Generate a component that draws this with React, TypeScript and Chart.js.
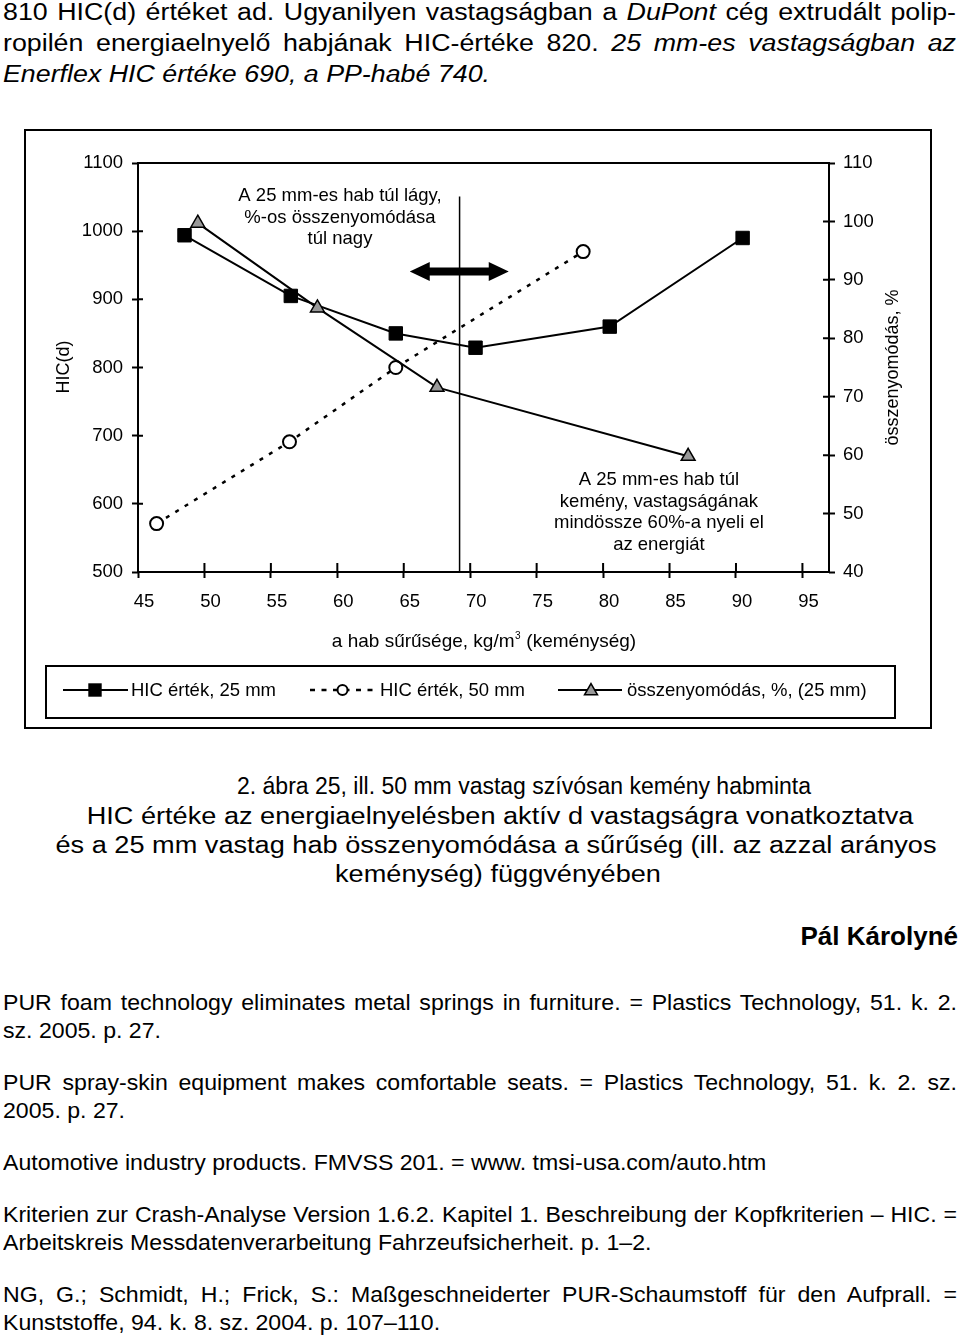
import React, { useEffect, useRef } from "react";
import { Chart, registerables } from "chart.js";

Chart.register(...registerables);

const FONT = "'Liberation Sans', Arial, Helvetica, sans-serif";

// ---- data ----
const densityTicks = [45, 50, 55, 60, 65, 70, 75, 80, 85, 90, 95];
const hicTicks = [500, 600, 700, 800, 900, 1000, 1100];
const compressionTicks = [40, 50, 60, 70, 80, 90, 100, 110];

const hic25Density = [48.5, 56.5, 64.4, 70.4, 80.5, 90.5];
const hic25Values = [994, 905, 850, 829, 860, 990];
const hic50Density = [46.4, 56.4, 64.4, 78.5];
const hic50Values = [571, 691, 800, 970];
const compressionDensity = [49.5, 58.5, 67.5, 86.4];
const compressionValues = [99.7, 85.2, 71.6, 59.8];

const seriesNames = ["HIC érték, 25 mm", "HIC érték, 50 mm", "összenyomódás, %, (25 mm)"];
const xTitleParts = ["a hab sűrűsége, kg/m", "3", " (keménység)"];
const leftTitle = "HIC(d)";
const rightTitle = "összenyomódás, %";

const softNote = ["A 25 mm-es hab túl lágy,", "%-os összenyomódása", "túl nagy"];
const softNoteAt = [60.2, 1044];
const hardNote = ["A 25 mm-es hab túl", "kemény, vastagságának", "mindössze 60%-a nyeli el", "az energiát"];
const hardNoteAt = [84.2, 627];
const dividerAt = [69.2, 1051];
const arrowAt = [65.45, 72.9, 941];

const toPoints = (xs: number[], ys: number[]) => xs.map((x, i) => ({ x, y: ys[i] }));

function tri(ctx: CanvasRenderingContext2D, cx: number, cy: number, r: number) {
  ctx.beginPath();
  ctx.moveTo(cx, cy - r);
  ctx.lineTo(cx + 0.866 * r, cy + 0.5 * r);
  ctx.lineTo(cx - 0.866 * r, cy + 0.5 * r);
  ctx.closePath();
}

const decor = {
  id: "decor",
  beforeDatasetsDraw(chart: any) {
    const { ctx, chartArea, scales } = chart;
    const x = scales.x;
    const y = scales.y;
    ctx.save();
    ctx.strokeStyle = "#000";
    ctx.lineWidth = 1.5;
    const dx = x.getPixelForValue(dividerAt[0]);
    ctx.beginPath();
    ctx.moveTo(dx, y.getPixelForValue(dividerAt[1]));
    ctx.lineTo(dx, chartArea.bottom);
    ctx.stroke();

    // double arrow
    const x1 = x.getPixelForValue(arrowAt[0]);
    const x2 = x.getPixelForValue(arrowAt[1]);
    const ay = y.getPixelForValue(arrowAt[2]);
    const hl = 20, hh = 9.5, st = 4;
    ctx.fillStyle = "#000";
    ctx.beginPath();
    ctx.moveTo(x1, ay);
    ctx.lineTo(x1 + hl, ay - hh);
    ctx.lineTo(x1 + hl, ay - st);
    ctx.lineTo(x2 - hl, ay - st);
    ctx.lineTo(x2 - hl, ay - hh);
    ctx.lineTo(x2, ay);
    ctx.lineTo(x2 - hl, ay + hh);
    ctx.lineTo(x2 - hl, ay + st);
    ctx.lineTo(x1 + hl, ay + st);
    ctx.lineTo(x1 + hl, ay + hh);
    ctx.closePath();
    ctx.fill();
    ctx.restore();
  },
  afterDraw(chart: any) {
    const { ctx, chartArea, scales } = chart;
    const { left, right, top, bottom } = chartArea;
    const x = scales.x;
    const y = scales.y;
    const y1 = scales.y1;
    ctx.save();
    ctx.strokeStyle = "#000";
    ctx.fillStyle = "#000";

    // outer frame
    ctx.lineWidth = 2;
    ctx.strokeRect(25, 5, 906, 598);
    // plot frame
    ctx.strokeRect(left, top, right - left, bottom - top);

    // inward tick stubs
    ctx.beginPath();
    x.ticks.forEach((t: any) => {
      const p = x.getPixelForValue(t.value);
      ctx.moveTo(p, bottom);
      ctx.lineTo(p, bottom - 9);
    });
    y.ticks.forEach((t: any) => {
      const p = y.getPixelForValue(t.value);
      ctx.moveTo(left, p);
      ctx.lineTo(left + 5, p);
    });
    y1.ticks.forEach((t: any) => {
      const p = y1.getPixelForValue(t.value);
      ctx.moveTo(right, p);
      ctx.lineTo(right - 6, p);
    });
    ctx.stroke();

    // annotations
    ctx.font = `18.5px ${FONT}`;
    ctx.textAlign = "center";
    ctx.textBaseline = "alphabetic";
    const drawNote = (lines: string[], at: number[]) => {
      const cx = x.getPixelForValue(at[0]);
      const by = y.getPixelForValue(at[1]);
      lines.forEach((l, i) => ctx.fillText(l, cx, by + i * 21.5));
    };
    drawNote(softNote, softNoteAt);
    drawNote(hardNote, hardNoteAt);

    // axis titles
    ctx.font = `18px ${FONT}`;
    ctx.save();
    ctx.translate(68.5, 242);
    ctx.rotate(-Math.PI / 2);
    ctx.fillText(leftTitle, 0, 0);
    ctx.restore();
    ctx.save();
    ctx.translate(898, 242.5);
    ctx.rotate(-Math.PI / 2);
    ctx.fillText(rightTitle, 0, 0);
    ctx.restore();

    ctx.textAlign = "left";
    ctx.font = `19px ${FONT}`;
    const w1 = ctx.measureText(xTitleParts[0]).width;
    const w3 = ctx.measureText(xTitleParts[2]).width;
    ctx.font = `10px ${FONT}`;
    const w2 = ctx.measureText(xTitleParts[1]).width;
    const sx = 483.5 - (w1 + w2 + w3) / 2;
    ctx.font = `19px ${FONT}`;
    ctx.fillText(xTitleParts[0], sx, 522);
    ctx.font = `10px ${FONT}`;
    ctx.fillText(xTitleParts[1], sx + w1 + 0.5, 514);
    ctx.font = `19px ${FONT}`;
    ctx.fillText(xTitleParts[2], sx + w1 + w2 + 1, 522);

    // legend
    ctx.lineWidth = 2;
    ctx.strokeRect(46, 541, 849, 52);
    const ly = 565;
    ctx.font = `18.5px ${FONT}`;
    ctx.textBaseline = "alphabetic";
    // item 1
    ctx.beginPath();
    ctx.moveTo(63, ly);
    ctx.lineTo(128, ly);
    ctx.stroke();
    ctx.fillRect(95 - 6.7, ly - 6.7, 13.4, 13.4);
    ctx.fillText(seriesNames[0], 131, 571);
    // item 2
    ctx.save();
    ctx.lineWidth = 2.5;
    ctx.setLineDash([5, 6.5]);
    ctx.beginPath();
    ctx.moveTo(310, ly);
    ctx.lineTo(378, ly);
    ctx.stroke();
    ctx.restore();
    ctx.beginPath();
    ctx.arc(342.5, ly, 5, 0, Math.PI * 2);
    ctx.fillStyle = "#fff";
    ctx.fill();
    ctx.lineWidth = 2;
    ctx.stroke();
    ctx.fillStyle = "#000";
    ctx.fillText(seriesNames[1], 380, 571);
    // item 3
    ctx.beginPath();
    ctx.moveTo(558, ly);
    ctx.lineTo(622, ly);
    ctx.stroke();
    tri(ctx, 591, ly + 1, 7.5);
    ctx.fillStyle = "#999";
    ctx.fill();
    ctx.lineWidth = 1.5;
    ctx.stroke();
    ctx.fillStyle = "#000";
    ctx.fillText(seriesNames[2], 627, 571);

    ctx.restore();
  },
};

function ChartBox() {
  const ref = useRef<HTMLCanvasElement>(null);
  useEffect(() => {
    if (!ref.current) return;
    const tickFont = { size: 18.5, family: FONT };
    const grid = {
      drawOnChartArea: false,
      drawTicks: true,
      tickLength: 6,
      tickWidth: 2,
      tickColor: "#000",
    };
    const chart = new Chart(ref.current, {
      type: "scatter",
      data: {
        datasets: [
          {
            label: seriesNames[0],
            data: toPoints(hic25Density, hic25Values),
            showLine: true,
            borderColor: "#000",
            borderWidth: 2,
            pointStyle: "rect",
            pointRadius: 9.5,
            pointBackgroundColor: "#000",
            pointBorderColor: "#000",
            pointBorderWidth: 1,
            yAxisID: "y",
            order: 2,
          },
          {
            label: seriesNames[1],
            data: toPoints(hic50Density, hic50Values),
            showLine: true,
            borderColor: "#000",
            borderWidth: 2.5,
            borderDash: [4, 7],
            pointStyle: "circle",
            pointRadius: 6.5,
            pointBackgroundColor: "#fff",
            pointBorderColor: "#000",
            pointBorderWidth: 2,
            yAxisID: "y",
            order: 3,
          },
          {
            label: seriesNames[2],
            data: toPoints(compressionDensity, compressionValues),
            showLine: true,
            borderColor: "#000",
            borderWidth: 2,
            pointStyle: "triangle",
            pointRadius: 8,
            pointBackgroundColor: "#999",
            pointBorderColor: "#000",
            pointBorderWidth: 1.5,
            yAxisID: "y1",
            order: 1,
          },
        ],
      },
      options: {
        animation: false,
        responsive: false,
        devicePixelRatio: 1,
        events: [],
        layout: { padding: { top: 38, left: 0, right: 0, bottom: 0 } },
        plugins: { legend: { display: false }, tooltip: { enabled: false } },
        scales: {
          x: {
            type: "linear",
            position: "bottom",
            min: 45,
            max: 97,
            afterBuildTicks: (s: any) => {
              s.ticks = densityTicks.map((v) => ({ value: v }));
            },
            afterFit: (s: any) => {
              s.height = 163;
            },
            ticks: {
              font: tickFont,
              color: "#000",
              padding: 13,
              labelOffset: 6,
              autoSkip: false,
              maxRotation: 0,
              callback: (v: any) => String(v),
            },
            grid,
            border: { display: false },
          },
          y: {
            type: "linear",
            position: "left",
            min: 500,
            max: 1100,
            afterBuildTicks: (s: any) => {
              s.ticks = hicTicks.map((v) => ({ value: v }));
            },
            afterFit: (s: any) => {
              s.width = 138;
            },
            ticks: { font: tickFont, color: "#000", padding: 9, callback: (v: any) => String(v) },
            grid,
            border: { display: false },
          },
          y1: {
            type: "linear",
            position: "right",
            min: 40,
            max: 110,
            afterBuildTicks: (s: any) => {
              s.ticks = compressionTicks.map((v) => ({ value: v }));
            },
            afterFit: (s: any) => {
              s.width = 131;
            },
            ticks: { font: tickFont, color: "#000", padding: 8, callback: (v: any) => String(v) },
            grid,
            border: { display: false },
          },
        },
      } as any,
      plugins: [decor],
    });
    return () => chart.destroy();
  }, []);
  return (
    <canvas
      ref={ref}
      width={960}
      height={610}
      style={{ position: "absolute", left: 0, top: 125, width: 960, height: 610 }}
    />
  );
}

type LineProps = {
  children: React.ReactNode;
  baseline: number;
  size: number;
  left: number;
  width: number;
  align?: "left" | "center" | "right";
  justify?: boolean;
  italic?: boolean;
  bold?: boolean;
  scale?: number;
  origin?: string;
};

function Line({ children, baseline, size, left, width, align = "left", justify, italic, bold, scale = 1, origin = "left top" }: LineProps) {
  return (
    <div
      style={{
        position: "absolute",
        left,
        top: baseline - 0.8465 * size,
        width,
        fontSize: size,
        lineHeight: `${size}px`,
        whiteSpace: "nowrap",
        textAlign: justify ? "justify" : align,
        textAlignLast: justify ? "justify" : align,
        fontStyle: italic ? "italic" : "normal",
        fontWeight: bold ? "bold" : "normal",
        transform: scale !== 1 ? `scaleX(${scale})` : undefined,
        transformOrigin: origin,
      } as any}
    >
      {children}
    </div>
  );
}

const TOP_S = 1.14;
const CAP_S = 1.18;
const REF_S = 1.05;
const REF_W = 954 / REF_S;

export default function App() {
  return (
    <div
      style={{
        position: "absolute",
        left: 0,
        top: 0,
        width: 960,
        height: 1337,
        overflow: "hidden",
        background: "#fff",
        color: "#000",
        fontFamily: FONT,
      }}
    >
      <Line baseline={21} size={23.5} left={3} width={953 / TOP_S} justify scale={TOP_S}>
        810 HIC(d) értéket ad. Ugyanilyen vastagságban a <i>DuPont</i> cég extrudált polip-
      </Line>
      <Line baseline={52} size={23.5} left={3} width={953 / TOP_S} justify scale={TOP_S}>
        ropilén energiaelnyelő habjának HIC-értéke 820. <i>25 mm-es vastagságban az</i>
      </Line>
      <Line baseline={83} size={23.5} left={3} width={953 / TOP_S} italic scale={TOP_S}>
        Enerflex HIC értéke 690, a PP-habé 740.
      </Line>

      <ChartBox />

      <Line baseline={794} size={23} left={524 - 480} width={960} align="center" origin="center top">
        2. ábra 25, ill. 50 mm vastag szívósan kemény habminta
      </Line>
      <Line baseline={824} size={23} left={500 - 480} width={960} align="center" scale={CAP_S} origin="center top">
        HIC értéke az energiaelnyelésben aktív d vastagságra vonatkoztatva
      </Line>
      <Line baseline={853} size={23} left={496 - 480} width={960} align="center" scale={CAP_S} origin="center top">
        és a 25 mm vastag hab összenyomódása a sűrűség (ill. az azzal arányos
      </Line>
      <Line baseline={882} size={23} left={497.5 - 480} width={960} align="center" scale={CAP_S} origin="center top">
        keménység) függvényében
      </Line>

      <Line baseline={945} size={26} left={0} width={958} align="right" bold>
        Pál Károlyné
      </Line>

      <Line baseline={1011} size={22} left={3} width={REF_W} justify scale={REF_S}>
        PUR foam technology eliminates metal springs in furniture. = Plastics Technology, 51. k. 2.
      </Line>
      <Line baseline={1039} size={22} left={3} width={REF_W} scale={REF_S}>
        sz. 2005. p. 27.
      </Line>
      <Line baseline={1091} size={22} left={3} width={REF_W} justify scale={REF_S}>
        PUR spray-skin equipment makes comfortable seats. = Plastics Technology, 51. k. 2. sz.
      </Line>
      <Line baseline={1119} size={22} left={3} width={REF_W} scale={REF_S}>
        2005. p. 27.
      </Line>
      <Line baseline={1171} size={22} left={3} width={REF_W} scale={REF_S}>
        Automotive industry products. FMVSS 201. = www. tmsi-usa.com/auto.htm
      </Line>
      <Line baseline={1223} size={22} left={3} width={REF_W} justify scale={REF_S}>
        Kriterien zur Crash-Analyse Version 1.6.2. Kapitel 1. Beschreibung der Kopfkriterien – HIC. =
      </Line>
      <Line baseline={1251} size={22} left={3} width={REF_W} scale={REF_S}>
        Arbeitskreis Messdatenverarbeitung Fahrzeufsicherheit. p. 1–2.
      </Line>
      <Line baseline={1303} size={22} left={3} width={REF_W} justify scale={REF_S}>
        NG, G.; Schmidt, H.; Frick, S.: Maßgeschneiderter PUR-Schaumstoff für den Aufprall. =
      </Line>
      <Line baseline={1331} size={22} left={3} width={REF_W} scale={REF_S}>
        Kunststoffe, 94. k. 8. sz. 2004. p. 107–110.
      </Line>
    </div>
  );
}
